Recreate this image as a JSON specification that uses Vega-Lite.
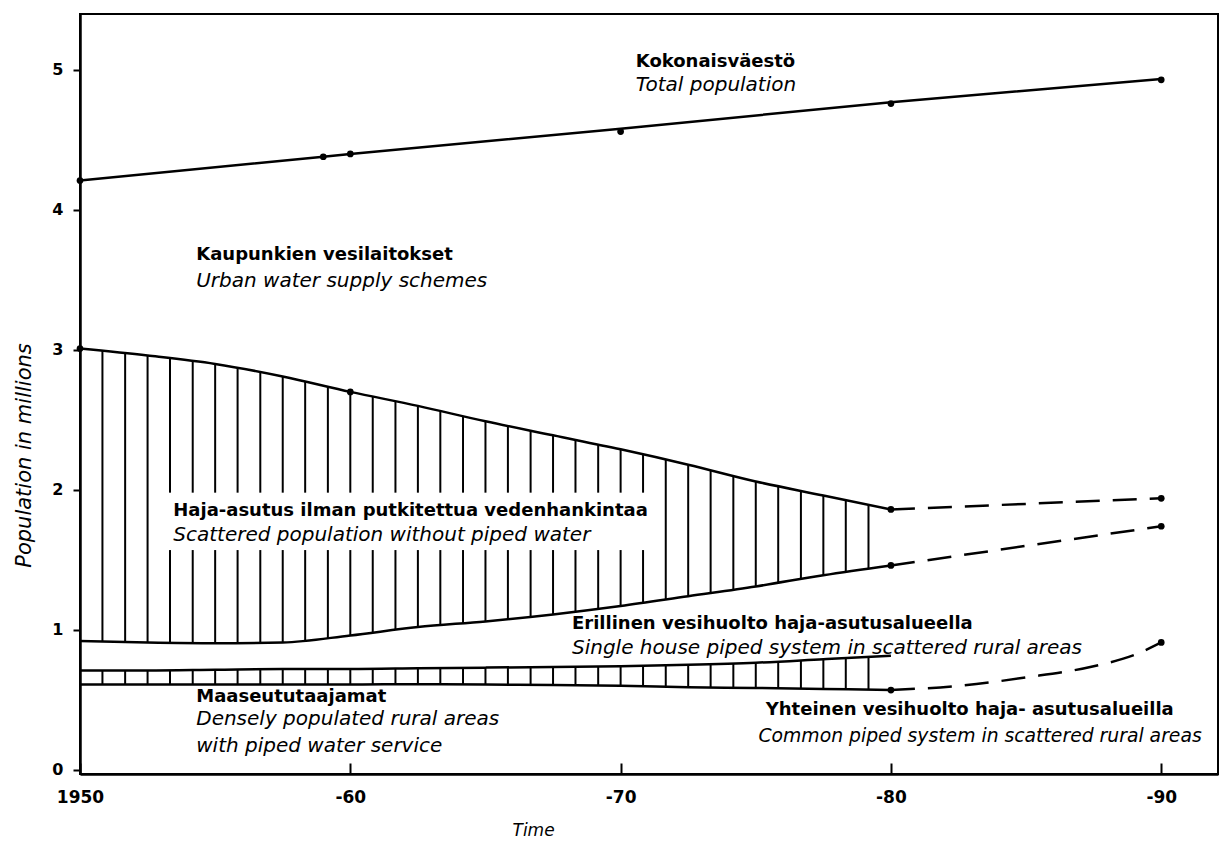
{
  "$schema": "https://vega.github.io/schema/vega-lite/v6.json",
  "width": 1138,
  "height": 760,
  "autosize": {"type": "none"},
  "padding": {"left": 80, "top": 14, "right": 1, "bottom": 70},
  "background": "white",
  "config": {
    "view": {"stroke": "black", "strokeWidth": 2},
    "axis": {"grid": false, "domainColor": "black", "domainWidth": 2.5, "tickColor": "black", "tickWidth": 2, "labelColor": "black", "titleColor": "black", "labelFont": "DejaVu Sans", "titleFont": "DejaVu Sans", "zindex": 2}
  },
  "datasets": {
    "bands": [
      {"year": 1950, "A": 3.01, "B": 0.92, "C": 0.71, "D": 0.61},
      {"year": 1952.5, "A": 2.96, "B": 0.91, "C": 0.71, "D": 0.61},
      {"year": 1955, "A": 2.9, "B": 0.905, "C": 0.715, "D": 0.61},
      {"year": 1957.5, "A": 2.81, "B": 0.91, "C": 0.72, "D": 0.61},
      {"year": 1960, "A": 2.7, "B": 0.96, "C": 0.72, "D": 0.61},
      {"year": 1962.5, "A": 2.6, "B": 1.02, "C": 0.725, "D": 0.612},
      {"year": 1965, "A": 2.49, "B": 1.06, "C": 0.73, "D": 0.61},
      {"year": 1967.5, "A": 2.39, "B": 1.11, "C": 0.735, "D": 0.605},
      {"year": 1970, "A": 2.29, "B": 1.17, "C": 0.74, "D": 0.6},
      {"year": 1972.5, "A": 2.18, "B": 1.24, "C": 0.75, "D": 0.59},
      {"year": 1975, "A": 2.06, "B": 1.31, "C": 0.765, "D": 0.585},
      {"year": 1977.5, "A": 1.96, "B": 1.39, "C": 0.79, "D": 0.578},
      {"year": 1980, "A": 1.86, "B": 1.46, "C": 0.815, "D": 0.57}
    ],
    "hatch": [
      {"year": 1950.83, "gap": false}, {"year": 1951.67, "gap": false}, {"year": 1952.5, "gap": false},
      {"year": 1953.33, "gap": true}, {"year": 1954.17, "gap": true}, {"year": 1955, "gap": true},
      {"year": 1955.83, "gap": true}, {"year": 1956.67, "gap": true}, {"year": 1957.5, "gap": true},
      {"year": 1958.33, "gap": true}, {"year": 1959.17, "gap": true}, {"year": 1960, "gap": true},
      {"year": 1960.83, "gap": true}, {"year": 1961.67, "gap": true}, {"year": 1962.5, "gap": true},
      {"year": 1963.33, "gap": true}, {"year": 1964.17, "gap": true}, {"year": 1965, "gap": true},
      {"year": 1965.83, "gap": true}, {"year": 1966.67, "gap": true}, {"year": 1967.5, "gap": true},
      {"year": 1968.33, "gap": true}, {"year": 1969.17, "gap": true}, {"year": 1970, "gap": true},
      {"year": 1970.83, "gap": true}, {"year": 1971.67, "gap": false}, {"year": 1972.5, "gap": false},
      {"year": 1973.33, "gap": false}, {"year": 1974.17, "gap": false}, {"year": 1975, "gap": false},
      {"year": 1975.83, "gap": false}, {"year": 1976.67, "gap": false}, {"year": 1977.5, "gap": false},
      {"year": 1978.33, "gap": false}, {"year": 1979.17, "gap": false}
    ],
    "total": [
      {"year": 1950, "pop": 4.21},
      {"year": 1959, "pop": 4.38},
      {"year": 1960, "pop": 4.4},
      {"year": 1970, "pop": 4.58},
      {"year": 1980, "pop": 4.77},
      {"year": 1990, "pop": 4.935}
    ],
    "proj": [
      {"series": "upper", "year": 1980, "pop": 1.86},
      {"series": "upper", "year": 1990, "pop": 1.94},
      {"series": "mid", "year": 1980, "pop": 1.46},
      {"series": "mid", "year": 1990, "pop": 1.74},
      {"series": "low", "year": 1980, "pop": 0.57},
      {"series": "low", "year": 1982.5, "pop": 0.6},
      {"series": "low", "year": 1985, "pop": 0.66},
      {"series": "low", "year": 1987.5, "pop": 0.74},
      {"series": "low", "year": 1989, "pop": 0.82},
      {"series": "low", "year": 1990, "pop": 0.91}
    ],
    "dots": [
      {"year": 1950, "pop": 4.21}, {"year": 1959, "pop": 4.38}, {"year": 1960, "pop": 4.4},
      {"year": 1970, "pop": 4.56}, {"year": 1980, "pop": 4.76}, {"year": 1990, "pop": 4.93},
      {"year": 1950, "pop": 3.01}, {"year": 1960, "pop": 2.7},
      {"year": 1980, "pop": 1.86}, {"year": 1980, "pop": 1.46}, {"year": 1980, "pop": 0.57},
      {"year": 1990, "pop": 1.94}, {"year": 1990, "pop": 1.74}, {"year": 1990, "pop": 0.91}
    ],
    "labels": [
      {"year": 1970.56, "pop": 5.06, "lang": "fi", "text": "Kokonaisväestö"},
      {"year": 1970.56, "pop": 4.89, "lang": "en", "text": "Total population"},
      {"year": 1954.3, "pop": 3.68, "lang": "fi", "text": "Kaupunkien vesilaitokset"},
      {"year": 1954.3, "pop": 3.49, "lang": "en", "text": "Urban water supply schemes"},
      {"year": 1953.45, "pop": 1.85, "lang": "fi", "text": "Haja-asutus ilman putkitettua vedenhankintaa"},
      {"year": 1953.45, "pop": 1.68, "lang": "en", "text": "Scattered population without piped water"},
      {"year": 1968.2, "pop": 1.04, "lang": "fi", "text": "Erillinen vesihuolto haja-asutusalueella"},
      {"year": 1968.2, "pop": 0.87, "lang": "en", "text": "Single house piped system in scattered rural areas"},
      {"year": 1954.3, "pop": 0.52, "lang": "fi", "text": "Maaseututaajamat"},
      {"year": 1954.3, "pop": 0.36, "lang": "en", "text": "Densely populated rural areas"},
      {"year": 1954.3, "pop": 0.17, "lang": "en", "text": "with piped water service"},
      {"year": 1975.37, "pop": 0.43, "lang": "fi", "text": "Yhteinen vesihuolto haja- asutusalueilla"},
      {"year": 1975.1, "pop": 0.245, "lang": "en2", "text": "Common piped system in scattered rural areas"}
    ]
  },
  "layer": [
    {
      "data": {"name": "hatch"},
      "transform": [{"filter": "!datum.gap"}],
      "mark": {"type": "rule", "color": "black", "strokeWidth": 2},
      "encoding": {
        "x": {"field": "year", "type": "quantitative", "scale": {"domain": [1950, 1992.1], "nice": false, "zero": false},
          "axis": {"values": [1950, 1960, 1970, 1980, 1990], "labelExpr": "datum.value == 1950 ? '1950' : '-' + (datum.value % 100)", "tickSize": -11, "zindex": 2, "labelFontSize": 17, "labelFontWeight": "bold", "labelPadding": 26, "labelFlush": false, "title": "Time", "titleFontStyle": "italic", "titleFontWeight": "normal", "titleFontSize": 17, "titleX": 432, "titleY": 56, "titleBaseline": "middle", "titleAnchor": "start"}},
        "y": {"datum": 0.5, "type": "quantitative", "scale": {"domain": [-0.03, 5.4], "nice": false, "zero": false},
          "axis": {"values": [0, 1, 2, 3, 4, 5], "format": "d", "tickSize": 7, "zindex": 2, "labelFontSize": 16, "labelFontWeight": "bold", "labelPadding": 10, "title": "Population in millions", "titleFontStyle": "italic", "titleFontWeight": "normal", "titleFontSize": 21, "titleX": -56, "titleY": 441, "titleBaseline": "middle", "titleAnchor": "middle"}},
        "y2": {"datum": 3.1}
      }
    },
    {
      "data": {"name": "hatch"},
      "transform": [{"filter": "datum.gap"}],
      "mark": {"type": "rule", "color": "black", "strokeWidth": 2},
      "encoding": {
        "x": {"field": "year", "type": "quantitative", "scale": {"domain": [1950, 1992.1], "nice": false, "zero": false}},
        "y": {"datum": 0.5, "type": "quantitative", "scale": {"domain": [-0.03, 5.4], "nice": false, "zero": false}},
        "y2": {"datum": 1.57}
      }
    },
    {
      "data": {"name": "hatch"},
      "transform": [{"filter": "datum.gap"}],
      "mark": {"type": "rule", "color": "black", "strokeWidth": 2},
      "encoding": {
        "x": {"field": "year", "type": "quantitative", "scale": {"domain": [1950, 1992.1], "nice": false, "zero": false}},
        "y": {"datum": 1.98, "type": "quantitative", "scale": {"domain": [-0.03, 5.4], "nice": false, "zero": false}},
        "y2": {"datum": 3.1}
      }
    },
    {
      "data": {"name": "bands"},
      "mark": {"type": "area", "color": "white", "interpolate": "monotone"},
      "encoding": {
        "x": {"field": "year", "type": "quantitative", "scale": {"domain": [1950, 1992.1], "nice": false, "zero": false}},
        "y": {"field": "A", "type": "quantitative", "scale": {"domain": [-0.03, 5.4], "nice": false, "zero": false}},
        "y2": {"datum": 4.1}
      }
    },
    {
      "data": {"name": "bands"},
      "mark": {"type": "area", "color": "white", "interpolate": "monotone"},
      "encoding": {
        "x": {"field": "year", "type": "quantitative", "scale": {"domain": [1950, 1992.1], "nice": false, "zero": false}},
        "y": {"field": "C", "type": "quantitative", "scale": {"domain": [-0.03, 5.4], "nice": false, "zero": false}},
        "y2": {"field": "B"}
      }
    },
    {
      "data": {"name": "bands"},
      "mark": {"type": "area", "color": "white", "interpolate": "monotone"},
      "encoding": {
        "x": {"field": "year", "type": "quantitative", "scale": {"domain": [1950, 1992.1], "nice": false, "zero": false}},
        "y": {"field": "D", "type": "quantitative", "scale": {"domain": [-0.03, 5.4], "nice": false, "zero": false}},
        "y2": {"datum": 0.3}
      }
    },
    {
      "data": {"name": "bands"},
      "transform": [{"fold": ["A", "B", "C", "D"], "as": ["line", "pop"]}],
      "mark": {"type": "line", "color": "black", "strokeWidth": 2.5, "interpolate": "monotone"},
      "encoding": {
        "x": {"field": "year", "type": "quantitative", "scale": {"domain": [1950, 1992.1], "nice": false, "zero": false}},
        "y": {"field": "pop", "type": "quantitative", "scale": {"domain": [-0.03, 5.4], "nice": false, "zero": false}},
        "detail": {"field": "line"}
      }
    },
    {
      "data": {"name": "total"},
      "mark": {"type": "line", "color": "black", "strokeWidth": 2.5},
      "encoding": {
        "x": {"field": "year", "type": "quantitative", "scale": {"domain": [1950, 1992.1], "nice": false, "zero": false}},
        "y": {"field": "pop", "type": "quantitative", "scale": {"domain": [-0.03, 5.4], "nice": false, "zero": false}}
      }
    },
    {
      "data": {"name": "proj"},
      "mark": {"type": "line", "color": "black", "strokeWidth": 2.5, "strokeDash": [24, 13], "interpolate": "monotone"},
      "encoding": {
        "x": {"field": "year", "type": "quantitative", "scale": {"domain": [1950, 1992.1], "nice": false, "zero": false}},
        "y": {"field": "pop", "type": "quantitative", "scale": {"domain": [-0.03, 5.4], "nice": false, "zero": false}},
        "detail": {"field": "series"}
      }
    },
    {
      "mark": {"type": "rule", "color": "black", "strokeWidth": 2.5},
      "encoding": {
        "x": {"datum": 1980, "type": "quantitative", "scale": {"domain": [1950, 1992.1], "nice": false, "zero": false}},
        "y": {"datum": -0.03, "type": "quantitative", "scale": {"domain": [-0.03, 5.4], "nice": false, "zero": false}},
        "y2": {"datum": 1.86}
      }
    },
    {
      "data": {"name": "dots"},
      "mark": {"type": "circle", "color": "black", "opacity": 1, "size": 45},
      "encoding": {
        "x": {"field": "year", "type": "quantitative", "scale": {"domain": [1950, 1992.1], "nice": false, "zero": false}},
        "y": {"field": "pop", "type": "quantitative", "scale": {"domain": [-0.03, 5.4], "nice": false, "zero": false}}
      }
    },
    {
      "data": {"name": "labels"},
      "transform": [{"filter": "datum.lang == 'fi'"}],
      "mark": {"type": "text", "align": "left", "baseline": "middle", "font": "DejaVu Sans", "fontWeight": "bold", "fontSize": 18, "color": "black"},
      "encoding": {
        "x": {"field": "year", "type": "quantitative", "scale": {"domain": [1950, 1992.1], "nice": false, "zero": false}},
        "y": {"field": "pop", "type": "quantitative", "scale": {"domain": [-0.03, 5.4], "nice": false, "zero": false}},
        "text": {"field": "text"}
      }
    },
    {
      "data": {"name": "labels"},
      "transform": [{"filter": "datum.lang == 'en'"}],
      "mark": {"type": "text", "align": "left", "baseline": "middle", "font": "DejaVu Sans", "fontStyle": "italic", "fontSize": 20, "color": "black"},
      "encoding": {
        "x": {"field": "year", "type": "quantitative", "scale": {"domain": [1950, 1992.1], "nice": false, "zero": false}},
        "y": {"field": "pop", "type": "quantitative", "scale": {"domain": [-0.03, 5.4], "nice": false, "zero": false}},
        "text": {"field": "text"}
      }
    },
    {
      "data": {"name": "labels"},
      "transform": [{"filter": "datum.lang == 'en2'"}],
      "mark": {"type": "text", "align": "left", "baseline": "middle", "font": "DejaVu Sans", "fontStyle": "italic", "fontSize": 18.8, "color": "black"},
      "encoding": {
        "x": {"field": "year", "type": "quantitative", "scale": {"domain": [1950, 1992.1], "nice": false, "zero": false}},
        "y": {"field": "pop", "type": "quantitative", "scale": {"domain": [-0.03, 5.4], "nice": false, "zero": false}},
        "text": {"field": "text"}
      }
    }
  ]
}
